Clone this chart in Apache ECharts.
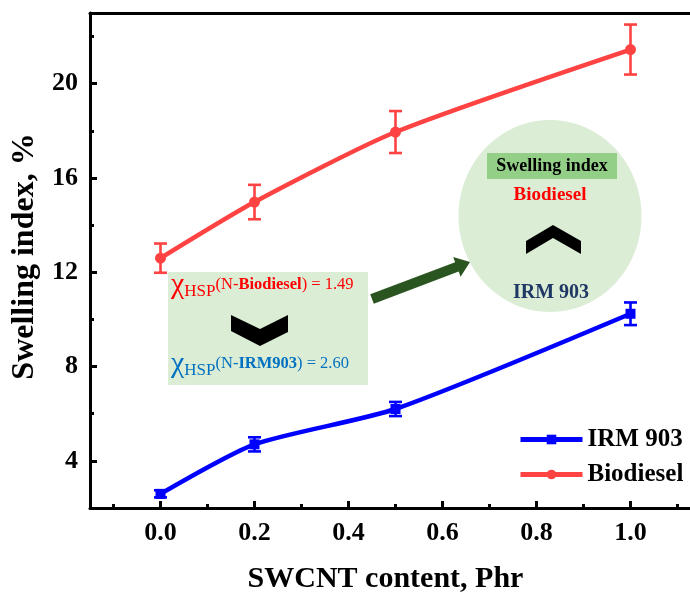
<!DOCTYPE html>
<html>
<head>
<meta charset="utf-8">
<script src="https://cdn.jsdelivr.net/npm/echarts@6/dist/echarts.min.js"></script>
<style>
  html, body { margin: 0; padding: 0; background: #fff; }
  #chart { width: 690px; height: 596px; }
</style>
</head>
<body>
<div id="chart"></div>
<script>
// data
var content = [0, 0.2, 0.5, 1.0];
var irm = [2.6, 4.7, 6.2, 10.24];
var irmErr = [0.15, 0.3, 0.3, 0.48];
var bio = [12.6, 14.98, 17.95, 21.45];
var bioErr = [0.62, 0.73, 0.89, 1.06];

var xMajor = [0, 0.2, 0.4, 0.6, 0.8, 1.0];
var xMinor = [-0.1, 0.1, 0.3, 0.5, 0.7, 0.9, 1.1];
var yMajor = [4, 8, 12, 16, 20];
var yMinor = [6, 10, 14, 18, 22];

var serif = 'Liberation Serif';
var red = '#ff4242';
var blue = '#0000ff';

function pairs(xs, ys) {
  var out = [];
  for (var i = 0; i < xs.length; i++) out.push([xs[i], ys[i]]);
  return out;
}
function errRows(xs, ys, es) {
  var out = [];
  for (var i = 0; i < xs.length; i++) out.push([xs[i], ys[i] - es[i], ys[i] + es[i]]);
  return out;
}
function errorBars(color) {
  return function (params, api) {
    var x = api.value(0);
    var lo = api.coord([x, api.value(1)]);
    var hi = api.coord([x, api.value(2)]);
    var cap = 6.5;
    var st = { stroke: color, lineWidth: 2.6 };
    return {
      type: 'group',
      children: [
        { type: 'line', shape: { x1: lo[0], y1: lo[1], x2: hi[0], y2: hi[1] }, style: st },
        { type: 'line', shape: { x1: lo[0] - cap, y1: lo[1], x2: lo[0] + cap, y2: lo[1] }, style: st },
        { type: 'line', shape: { x1: hi[0] - cap, y1: hi[1], x2: hi[0] + cap, y2: hi[1] }, style: st }
      ]
    };
  };
}

// dark green arrow between the box and the ellipse
function arrowPoints(tx, ty, px, py, w, h, len) {
  var dx = px - tx, dy = py - ty, d = Math.sqrt(dx * dx + dy * dy);
  var ux = dx / d, uy = dy / d, nx = -uy, ny = ux;
  var bx = px - ux * len, by = py - uy * len;
  return [
    [tx + nx * w, ty + ny * w], [bx + nx * w, by + ny * w], [bx + nx * h, by + ny * h],
    [px, py],
    [bx - nx * h, by - ny * h], [bx - nx * w, by - ny * w], [tx - nx * w, ty - ny * w]
  ];
}

var tokens = function (col) {
  return {
    chi: { fontFamily: serif, fontSize: 30, fill: col, verticalAlign: 'bottom', lineHeight: 32 },
    sub: { fontFamily: serif, fontSize: 17, fill: col, verticalAlign: 'bottom', lineHeight: 19 },
    t: { fontFamily: serif, fontSize: 16.5, fill: col, verticalAlign: 'bottom', lineHeight: 18, padding: [0, 0, 7, 0] },
    b: { fontFamily: serif, fontSize: 16.5, fontWeight: 'bold', fill: col, verticalAlign: 'bottom', lineHeight: 18, padding: [0, 0, 7, 0] }
  };
};

var chart = echarts.init(document.getElementById('chart'));

var axisFont = { fontFamily: serif, fontWeight: 'bold', fontSize: 26, color: '#000' };
var blackLine = { color: '#000', width: 3 };

chart.setOption({
  animation: false,
  backgroundColor: '#fff',
  grid: {
    left: 90, top: 13, width: 611, bottom: 88,
    outerBoundsMode: 'none', containLabel: false, show: false
  },
  legend: {
    data: ['IRM 903', 'Biodiesel'],
    orient: 'vertical',
    left: 513,
    top: 422,
    itemWidth: 62,
    itemHeight: 12,
    itemGap: 10,
    lineStyle: { width: 5 },
    textStyle: { fontFamily: serif, fontWeight: 'bold', fontSize: 25, color: '#000', lineHeight: 22 }
  },
  xAxis: [
    {
      type: 'value', min: -0.15, max: 1.15,
      name: 'SWCNT content, Phr', nameLocation: 'middle', nameGap: 56,
      nameTextStyle: { fontFamily: serif, fontWeight: 'bold', fontSize: 30, color: '#000', padding: [0, 20, 0, 0] },
      axisLine: { onZero: false, lineStyle: blackLine },
      axisTick: { inside: true, length: 7, customValues: xMajor, lineStyle: blackLine },
      axisLabel: Object.assign({ customValues: xMajor, margin: 12, formatter: function (v) { return v.toFixed(1); } }, axisFont),
      splitLine: { show: false }
    },
    {
      type: 'value', min: -0.15, max: 1.15, position: 'bottom',
      axisLine: { show: false, onZero: false },
      axisTick: { inside: true, length: 4, customValues: xMinor, lineStyle: blackLine },
      axisLabel: { show: false },
      splitLine: { show: false }
    },
    {
      // top frame line
      type: 'value', min: -0.15, max: 1.15, position: 'top',
      axisLine: { show: true, onZero: false, lineStyle: blackLine },
      axisTick: { show: false },
      axisLabel: { show: false },
      splitLine: { show: false }
    }
  ],
  yAxis: [
    {
      type: 'value', min: 2, max: 23,
      name: 'Swelling index, %', nameLocation: 'middle', nameGap: 40,
      nameTextStyle: { fontFamily: serif, fontWeight: 'bold', fontSize: 32, color: '#000', padding: [0, 0, 0, 8] },
      axisLine: { show: true, onZero: false, lineStyle: blackLine },
      axisTick: { show: true, inside: true, length: 7, customValues: yMajor, lineStyle: blackLine },
      axisLabel: Object.assign({ customValues: yMajor, margin: 12 }, axisFont),
      splitLine: { show: false }
    },
    {
      type: 'value', min: 2, max: 23, position: 'left',
      axisLine: { show: false, onZero: false },
      axisTick: { show: true, inside: true, length: 4, customValues: yMinor, lineStyle: blackLine },
      axisLabel: { show: false },
      splitLine: { show: false }
    }
  ],
  series: [
    {
      name: 'IRM 903', type: 'line', data: pairs(content, irm),
      smooth: 0.22, symbol: 'rect', symbolSize: 10, z: 3,
      lineStyle: { color: blue, width: 4.5 }, itemStyle: { color: blue }
    },
    {
      name: 'Biodiesel', type: 'line', data: pairs(content, bio),
      smooth: 0.22, symbol: 'circle', symbolSize: 11, z: 3,
      lineStyle: { color: red, width: 4.5 }, itemStyle: { color: red }
    },
    {
      name: 'errIRM', type: 'custom', data: errRows(content, irm, irmErr),
      encode: { x: 0, y: [1, 2] }, renderItem: errorBars(blue), z: 4
    },
    {
      name: 'errBio', type: 'custom', data: errRows(content, bio, bioErr),
      encode: { x: 0, y: [1, 2] }, renderItem: errorBars(red), z: 4
    }
  ],
  graphic: [
    // left annotation box
    { type: 'rect', shape: { x: 168, y: 272, width: 200, height: 113 }, style: { fill: '#dcedd6' }, z: 1 },
    {
      type: 'text', x: 171, y: 268, z: 5,
      style: { text: '{chi|χ}{sub|HSP}{t|(N-}{b|Biodiesel}{t|) = 1.49}', rich: tokens('#ff0000') }
    },
    {
      type: 'text', x: 171, y: 347, z: 5,
      style: { text: '{chi|χ}{sub|HSP}{t|(N-}{b|IRM903}{t|) = 2.60}', rich: tokens('#0070c0') }
    },
    {
      type: 'polygon', z: 5,
      shape: { points: [[231, 315], [260, 329], [288, 315], [288, 332], [260, 346], [231, 331]] },
      style: { fill: '#000' }
    },
    // arrow
    { type: 'polygon', z: 5, shape: { points: arrowPoints(372, 299, 470, 262, 5, 10.5, 14) }, style: { fill: '#2b5520' } },
    // right ellipse
    { type: 'ellipse', shape: { cx: 550, cy: 216, rx: 91.5, ry: 96 }, style: { fill: '#dcedd6' }, z: 1 },
    { type: 'rect', shape: { x: 487, y: 153, width: 130, height: 26 }, style: { fill: '#93cf87' }, z: 5 },
    {
      type: 'text', x: 552, y: 166, z: 6,
      style: { text: 'Swelling index', fontFamily: serif, fontWeight: 'bold', fontSize: 18, fill: '#000', align: 'center', verticalAlign: 'middle' }
    },
    {
      type: 'text', x: 550, y: 195, z: 6,
      style: { text: 'Biodiesel', fontFamily: serif, fontWeight: 'bold', fontSize: 19, fill: '#ff0000', align: 'center', verticalAlign: 'middle' }
    },
    {
      type: 'polygon', z: 5,
      shape: { points: [[526, 241], [553, 225], [581, 241], [581, 254], [553, 238], [526, 254]] },
      style: { fill: '#000' }
    },
    {
      type: 'text', x: 551, y: 293, z: 6,
      style: { text: 'IRM 903', fontFamily: serif, fontWeight: 'bold', fontSize: 20, fill: '#1f3864', align: 'center', verticalAlign: 'middle' }
    }
  ]
});
</script>
</body>
</html>
